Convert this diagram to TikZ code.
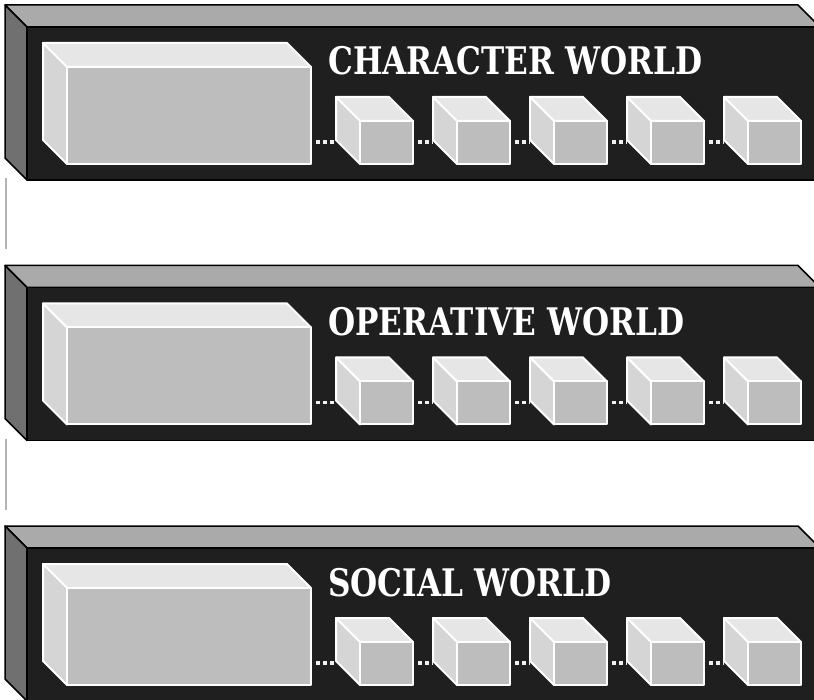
\documentclass[tikz,border=0pt]{standalone}
\usepackage{fontspec}
\newfontfamily\slabfont{DejaVu Serif}[FakeStretch=0.82]
\usepackage{tikz}
\usetikzlibrary{positioning, calc}
\definecolor{slabfront}{HTML}{1F1F1F}
\definecolor{slabtop}{HTML}{AAAAAA}
\definecolor{slabside}{HTML}{707070}
\definecolor{boxfront}{HTML}{BDBDBD}
\definecolor{boxtop}{HTML}{E6E6E6}
\definecolor{boxside}{HTML}{D5D5D5}
\definecolor{gapgrey}{HTML}{B4B4B4}
\tikzset{
    block_top/.style={fill=boxtop, draw=white, line width=2pt, line join=round},
    block_side/.style={fill=boxside, draw=white, line width=2pt, line join=round},
    block_front/.style={fill=boxfront, draw=white, line width=2pt, line join=round},
    slab/.style={
        block_top/.style={fill=slabtop, draw=black, line width=1.5pt, line join=round},
        block_side/.style={fill=slabside, draw=black, line width=1.5pt, line join=round},
        block_front/.style={fill=slabfront, draw=black, line width=1.5pt, line join=round}},
    title/.style={anchor=base west, text=white, inner sep=0pt, font=\slabfont\bfseries\fontsize{38}{38}\selectfont},
    link/.style={draw=white!94!black, line width=3.5pt, dash pattern=on 4pt off 3pt, shorten <=5pt, shorten >=2pt},
    gap_line/.style={draw=gapgrey, line width=2pt, shorten >=16pt},
    % width, height, depth
    pics/block/.style n args={3}{code={
        \path[block_top] (0,0) -- ++(#1,0) -- ++(#3,#3) -- ++(-#1,0) -- cycle;
        \path[block_side] (0,0) -- ++(#3,#3) -- ++(0,#2) -- ++(-#3,-#3) -- cycle;
        \path[block_front] (#3,#3) rectangle ++(#1,#2);
        \coordinate (-head) at (1,0);
        \coordinate (-foot) at (1,#2+#3-2);
        \coordinate (-in) at (2,#2+2);
        \coordinate (-out) at (#1+#3,#2+2);
    }}
}
\begin{document}
\begin{tikzpicture}[x=1pt, y=-1pt]
\useasboundingbox (0,0) rectangle (814,700);

\foreach \name [count=\i] in {CHARACTER WORLD, OPERATIVE WORLD, SOCIAL WORLD} {
    \pgfmathsetmacro\off{260.5*(\i-1)}
    % slab, big box and cubes
    \pic[slab] (w\i-slab) at (5,5+\off) {block={793}{153}{22}};
    \pic (w\i-big) at (43,43+\off) {block={244}{97}{24}};
    \foreach \j in {1,...,5}
        \pic (w\i-c\j) at ({336+97*(\j-1)},97+\off) {block={53}{43}{24}};
    \node[title] (title\i) at (328,75+\off) {\name};
    % dotted links
    \draw[link] (w\i-big-out) -- (w\i-c1-in);
    \foreach \j [evaluate=\j as \k using int(\j+1)] in {1,...,4}
        \draw[link] (w\i-c\j-out) -- (w\i-c\k-in);
}

% grey lines between slabs
\draw[gap_line] (w1-slab-foot) -- (w2-slab-head);
\draw[gap_line] (w2-slab-foot) -- (w3-slab-head);

\end{tikzpicture}
\end{document}
